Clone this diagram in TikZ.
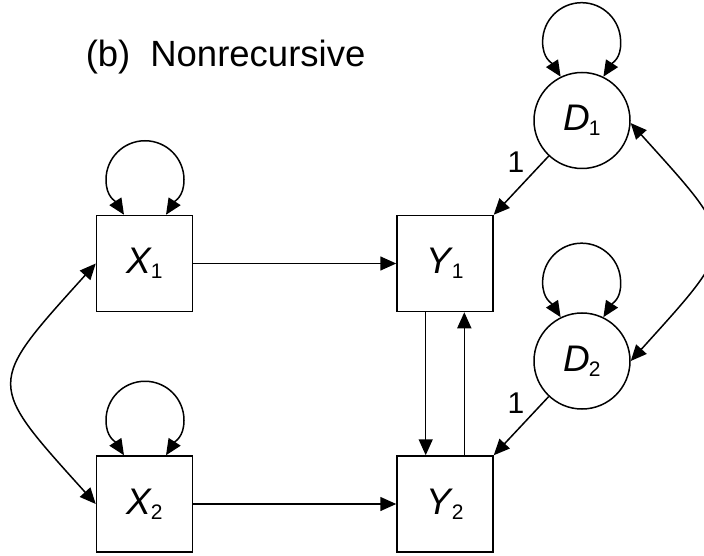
\documentclass[tikz,border=0pt]{standalone}
\usepackage{fontspec}
\setmainfont{Liberation Sans}
\usetikzlibrary{arrows.meta,calc}
\newcommand{\mylab}[2]{\textit{#1}\hspace{-1.5pt}\raisebox{-5pt}{\fontsize{21}{21}\selectfont #2}}
\begin{document}
\begin{tikzpicture}[x=1pt,y=1pt,
  line width=1.5pt,
  Tri/.tip={Triangle[length=16pt,width=14pt]},
  box/.style={draw,minimum size=96pt,inner sep=0pt,font=\fontsize{37}{37}\selectfont},
  circ/.style={draw,circle,minimum size=96pt,inner sep=0pt,font=\fontsize{37}{37}\selectfont},
  arr/.style={-Tri},
  darr/.style={Tri-Tri},
  onelab/.style={font=\fontsize{30}{30}\selectfont,inner sep=0pt},
]
\useasboundingbox (0,0) rectangle (704,555);
% title
\node[anchor=base west,inner sep=0pt,font=\fontsize{36.5}{36.5}\selectfont] (T) at (85,488) {(b)\hspace{20pt}Nonrecursive};
% nodes
\node[box] (X1) at (144.5,291.5) {\mylab{X}{1}};
\node[box] (X2) at (144.5,51) {\mylab{X}{2}};
\node[box] (Y1) at (445,291.5) {\mylab{Y}{1}};
\node[box] (Y2) at (445,51) {\mylab{Y}{2}};
\node[circ] (D1) at (582,434.5) {\mylab{D}{1}};
\node[circ] (D2) at (582,194) {\mylab{D}{2}};
% self loops
\foreach \n in {X1,X2}{
  \coordinate (\n-a) at ($(\n.north)+(-20.5,0)$);
  \coordinate (\n-b) at ($(\n.north)+(21.5,0)$);
}
\foreach \n in {D1,D2}{
  \coordinate (\n-a) at (\n.116);
  \coordinate (\n-b) at (\n.64);
}
\foreach \n in {X1,X2,D1,D2}{
  \draw[darr] (\n-a) .. controls ($(\n-a)+(-9,14)$) and ($(\n-a)+(-18,18)$) .. ($(\n-a)+(-18,35)$)
     arc[start angle=180, end angle=0, radius=39]
     .. controls ($(\n-b)+(18,18)$) and ($(\n-b)+(9,14)$) .. (\n-b);
}
% paths
\draw[arr] (X1.east) -- (Y1.west);
\draw[arr] (X2.east) -- (Y2.west);
\draw[arr] ($(Y1.south)+(-19.3,0)$) -- ($(Y2.north)+(-19.3,0)$);
\draw[arr] ($(Y2.north)+(19.3,0)$) -- ($(Y1.south)+(19.3,0)$);
\draw[arr] (D1) -- (Y1.north east);
\draw[arr] (D2) -- (Y2.north east);
\node[onelab] (L1) at (516,392.5) {1};
\node[onelab] (L2) at (516,152) {1};
% covariances
\draw[darr] (X1.west) .. controls ($(X1.west)+(-110,-122)$) and ($(X2.west)+(-110,122)$) .. (X2.west);
\draw[darr] (D1.-3) .. controls ($(D1.-3)+(110,-122)$) and ($(D2.east)+(110,122)$) .. (D2.east);
\end{tikzpicture}
\end{document}
